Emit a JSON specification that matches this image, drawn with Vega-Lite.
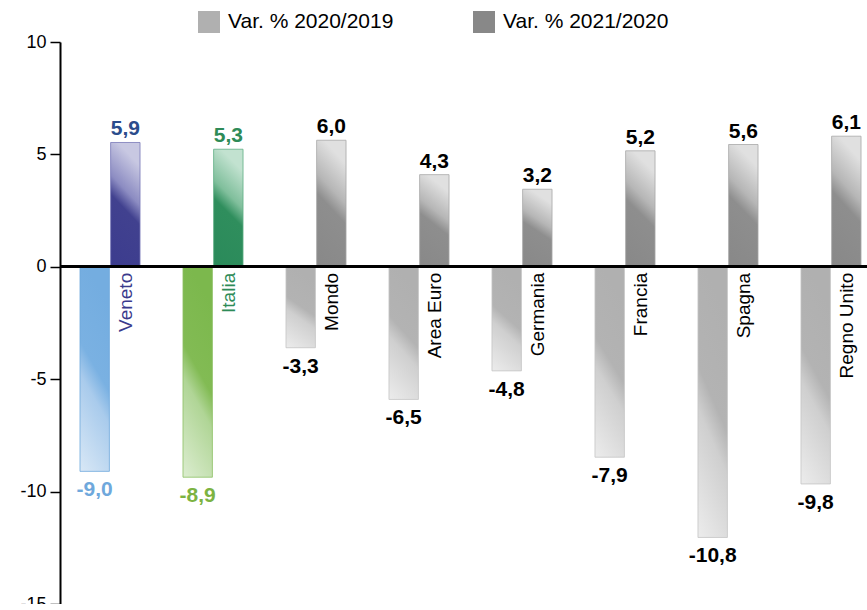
{
  "$schema": "https://vega.github.io/schema/vega-lite/v6.json",
  "width": 807,
  "height": 562,
  "autosize": {"type": "none"},
  "padding": {"left": 60, "top": 42, "right": 0, "bottom": 0},
  "background": "white",
  "config": {"view": {"stroke": null}, "font": "Liberation Sans"},
  "data": {
    "values": [
      {"country": "Veneto", "series": "Var. % 2020/2019", "value": -9.1, "label": "-9,0"},
      {"country": "Veneto", "series": "Var. % 2021/2020", "value": 5.53, "label": "5,9"},
      {"country": "Italia", "series": "Var. % 2020/2019", "value": -9.36, "label": "-8,9"},
      {"country": "Italia", "series": "Var. % 2021/2020", "value": 5.23, "label": "5,3"},
      {"country": "Mondo", "series": "Var. % 2020/2019", "value": -3.6, "label": "-3,3"},
      {"country": "Mondo", "series": "Var. % 2021/2020", "value": 5.63, "label": "6,0"},
      {"country": "Area Euro", "series": "Var. % 2020/2019", "value": -5.9, "label": "-6,5"},
      {"country": "Area Euro", "series": "Var. % 2021/2020", "value": 4.1, "label": "4,3"},
      {"country": "Germania", "series": "Var. % 2020/2019", "value": -4.63, "label": "-4,8"},
      {"country": "Germania", "series": "Var. % 2021/2020", "value": 3.45, "label": "3,2"},
      {"country": "Francia", "series": "Var. % 2020/2019", "value": -8.47, "label": "-7,9"},
      {"country": "Francia", "series": "Var. % 2021/2020", "value": 5.16, "label": "5,2"},
      {"country": "Spagna", "series": "Var. % 2020/2019", "value": -12.04, "label": "-10,8"},
      {"country": "Spagna", "series": "Var. % 2021/2020", "value": 5.44, "label": "5,6"},
      {"country": "Regno Unito", "series": "Var. % 2020/2019", "value": -9.66, "label": "-9,8"},
      {"country": "Regno Unito", "series": "Var. % 2021/2020", "value": 5.81, "label": "6,1"}
    ]
  },
  "layer": [
    {
      "encoding": {
        "x": {
          "field": "country", "type": "nominal",
          "sort": ["Veneto", "Italia", "Mondo", "Area Euro", "Germania", "Francia", "Spagna", "Regno Unito"],
          "scale": {"paddingInner": 0.417, "paddingOuter": 0.126, "align": 0.77},
          "axis": null
        },
        "xOffset": {
          "field": "series", "type": "nominal",
          "sort": ["Var. % 2020/2019", "Var. % 2021/2020"],
          "scale": {"paddingInner": 0.04}
        },
        "y": {
          "field": "value", "type": "quantitative",
          "scale": {"domain": [-15, 10], "nice": false},
          "axis": {
            "values": [-15, -10, -5, 0, 5, 10],
            "title": null, "grid": false,
            "domainColor": "black", "domainWidth": 2,
            "tickColor": "black", "tickWidth": 1.5, "tickSize": 10,
            "labelFontSize": 18, "labelColor": "black", "labelPadding": 4,
            "labelExpr": "toString(datum.value)"
          }
        }
      },
      "layer": [
        {
          "transform": [{"filter": "datum.country === 'Veneto' && datum.value < 0"}],
          "mark": {"type": "bar", "stroke": "#6fa8dc", "strokeWidth": 0.8,
            "fill": {"gradient": "linear", "x1": 0.25, "y1": 0, "x2": 0, "y2": 1,
              "stops": [{"offset": 0, "color": "#74ade0"}, {"offset": 0.4, "color": "#7ab1e2"}, {"offset": 0.55, "color": "#a9cbec"}, {"offset": 1, "color": "#d9e8f6"}]}}
        },
        {
          "transform": [{"filter": "datum.country === 'Veneto' && datum.value > 0"}],
          "mark": {"type": "bar", "stroke": "#7a7ab8", "strokeWidth": 0.8,
            "fill": {"gradient": "linear", "x1": 0.25, "y1": 0, "x2": 0, "y2": 1,
              "stops": [{"offset": 0, "color": "#c8c8e2"}, {"offset": 0.3, "color": "#8c8cc2"}, {"offset": 0.45, "color": "#41418f"}, {"offset": 1, "color": "#3c3c8e"}]}}
        },
        {
          "transform": [{"filter": "datum.country === 'Italia' && datum.value < 0"}],
          "mark": {"type": "bar", "stroke": "#8cc063", "strokeWidth": 0.8,
            "fill": {"gradient": "linear", "x1": 0.25, "y1": 0, "x2": 0, "y2": 1,
              "stops": [{"offset": 0, "color": "#7cb84d"}, {"offset": 0.4, "color": "#82bb54"}, {"offset": 0.55, "color": "#b0d596"}, {"offset": 1, "color": "#dcedd0"}]}}
        },
        {
          "transform": [{"filter": "datum.country === 'Italia' && datum.value > 0"}],
          "mark": {"type": "bar", "stroke": "#5fae84", "strokeWidth": 0.8,
            "fill": {"gradient": "linear", "x1": 0.25, "y1": 0, "x2": 0, "y2": 1,
              "stops": [{"offset": 0, "color": "#c2e2d0"}, {"offset": 0.3, "color": "#80bf9c"}, {"offset": 0.45, "color": "#2f8e5d"}, {"offset": 1, "color": "#2a8a5a"}]}}
        },
        {
          "transform": [{"filter": "datum.country !== 'Veneto' && datum.country !== 'Italia' && datum.value < 0"}],
          "mark": {"type": "bar", "stroke": "#c4c4c4", "strokeWidth": 0.8,
            "fill": {"gradient": "linear", "x1": 0.25, "y1": 0, "x2": 0, "y2": 1,
              "stops": [{"offset": 0, "color": "#b0b0b0"}, {"offset": 0.4, "color": "#b3b3b3"}, {"offset": 0.55, "color": "#cfcfcf"}, {"offset": 1, "color": "#ececec"}]}}
        },
        {
          "transform": [{"filter": "datum.country !== 'Veneto' && datum.country !== 'Italia' && datum.value > 0"}],
          "mark": {"type": "bar", "stroke": "#a8a8a8", "strokeWidth": 0.8,
            "fill": {"gradient": "linear", "x1": 0.25, "y1": 0, "x2": 0, "y2": 1,
              "stops": [{"offset": 0, "color": "#e0e0e0"}, {"offset": 0.3, "color": "#b6b6b6"}, {"offset": 0.45, "color": "#8e8e8e"}, {"offset": 1, "color": "#888888"}]}}
        },
        {
          "transform": [{"filter": "datum.value > 0"}],
          "mark": {"type": "text", "fontSize": 21, "fontWeight": "bold", "baseline": "alphabetic", "dy": -7},
          "encoding": {
            "text": {"field": "label"},
            "fill": {"condition": [{"test": "datum.country === 'Veneto'", "value": "#2b4c8c"}, {"test": "datum.country === 'Italia'", "value": "#2e8b57"}], "value": "black"}
          }
        },
        {
          "transform": [{"filter": "datum.value < 0"}],
          "mark": {"type": "text", "fontSize": 21, "fontWeight": "bold", "baseline": "alphabetic", "dy": 25},
          "encoding": {
            "text": {"field": "label"},
            "fill": {"condition": [{"test": "datum.country === 'Veneto'", "value": "#6fa8dc"}, {"test": "datum.country === 'Italia'", "value": "#7cb342"}], "value": "black"}
          }
        },
        {
          "transform": [{"filter": "datum.value > 0"}],
          "mark": {"type": "text", "fontSize": 19, "angle": 270, "align": "right", "baseline": "alphabetic", "dx": -6, "dy": 7},
          "encoding": {
            "y": {"datum": 0, "type": "quantitative"},
            "text": {"field": "country"},
            "fill": {"condition": [{"test": "datum.country === 'Veneto'", "value": "#3a3a8c"}, {"test": "datum.country === 'Italia'", "value": "#2e8b57"}], "value": "black"}
          }
        },
        {
          "mark": {"type": "bar"},
          "encoding": {
            "y": {"datum": 0, "type": "quantitative"},
            "y2": {"datum": 0},
            "color": {
              "field": "series", "type": "nominal",
              "scale": {"domain": ["Var. % 2020/2019", "Var. % 2021/2020"], "range": ["#b0b0b0", "#888888"]},
              "legend": {
                "orient": "none", "legendX": 138, "legendY": -31,
                "direction": "horizontal", "title": null,
                "symbolType": "square", "symbolSize": 484, "symbolStrokeWidth": 0,
                "symbolOpacity": 1,
                "labelFontSize": 21, "labelColor": "black", "labelOffset": 8,
                "labelLimit": 400,
                "columnPadding": 79, "padding": 0
              }
            }
          }
        }
      ]
    },
    {
      "mark": {"type": "rule", "color": "black", "strokeWidth": 2},
      "encoding": {"y": {"datum": 0, "type": "quantitative"}}
    }
  ]
}
